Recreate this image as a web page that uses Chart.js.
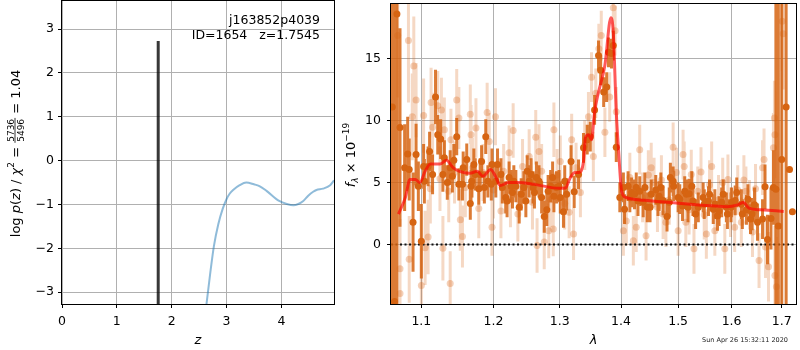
<!DOCTYPE html>
<html><head><meta charset="utf-8">
<script src="https://cdn.jsdelivr.net/npm/chart.js@4.4.1/dist/chart.umd.min.js"></script>
<style>html,body{margin:0;padding:0;background:#fff;width:800px;height:350px;overflow:hidden}
canvas{position:absolute;top:0}#cL{left:0}#cR{left:340px}</style></head>
<body><canvas id="cL" width="340" height="350"></canvas><canvas id="cR" width="460" height="350"></canvas>
<script>
// ---------- Left panel: log p(z) ----------
const zTicks = [0, 1, 2, 3, 4];
const pzTicks = [-3, -2, -1, 0, 1, 2, 3];
const pzZ = [2.60, 2.635, 2.70, 2.77, 2.85, 2.93, 3.0, 3.06, 3.12, 3.24, 3.36, 3.5, 3.6, 3.73, 3.96, 4.10, 4.22, 4.31, 4.40, 4.49, 4.58, 4.64, 4.76, 4.89, 4.96];
const pzLog = [-3.65, -3.27, -2.60, -1.95, -1.45, -1.10, -0.88, -0.75, -0.67, -0.56, -0.50, -0.54, -0.58, -0.69, -0.92, -0.99, -1.02, -0.99, -0.92, -0.80, -0.71, -0.67, -0.64, -0.56, -0.45];
const peakZ = [1.7545, 1.7545];
const peakLog = [-4.0, 2.73];
const annot1 = 'j163852p4039';
const annot2 = 'ID=1654   z=1.7545';

// ---------- Right panel: spectrum ----------
const lamTicks = [1.1, 1.2, 1.3, 1.4, 1.5, 1.6, 1.7];
const fluxTicks = [0, 5, 10, 15];
const modelLam = [1.070,1.079,1.085,1.092,1.098,1.105,1.112,1.125,1.134,1.143,1.152,1.166,1.177,1.185,1.196,1.203,1.210,1.222,1.237,1.261,1.300,1.309,1.317,1.324,1.330,1.338,1.341,1.346,1.351,1.356,1.3625,1.373,1.383,1.387,1.392,1.396,1.401,1.408,1.441,1.500,1.561,1.592,1.612,1.623,1.634,1.657,1.704];
const modelF = [2.45,3.8,5.25,5.25,5.0,5.9,6.5,6.5,6.8,6.2,5.9,5.75,5.9,5.5,6.05,5.5,4.75,5.0,5.0,4.85,4.53,4.55,5.4,5.8,5.8,6.7,8.6,8.85,8.45,10.7,12.3,14.45,18.3,17.1,10.7,7.5,4.3,3.8,3.57,3.33,3.12,3.05,3.2,3.38,2.93,2.8,2.67];

const darkLam = [1.062,1.065,1.068,1.072,1.078,1.082,1.084,1.089,1.093,1.096,1.100,1.103,1.104,1.109,1.111,1.115,1.119,1.122,1.126,1.129,1.131,1.135,1.139,1.142,1.144,1.148,1.151,1.156,1.157,1.162,1.167,1.168,1.169,1.172,1.174,1.179,1.181,1.183,1.187,1.189,1.192,1.197,1.198,1.2035,1.206,1.211,1.213,1.218,1.220,1.223,1.226,1.228,1.230,1.233,1.238,1.241,1.245,1.248,1.250,1.253,1.256,1.259,1.261,1.264,1.268,1.272,1.276,1.280,1.282,1.286,1.289,1.291,1.295,1.299,1.301,1.306,1.308,1.311,1.318,1.323,1.330,1.338,1.344,1.349,1.356,1.3625,1.366,1.371,1.376,1.379,1.384,1.387,1.392,1.398,1.404,1.406,1.412,1.415,1.418,1.423,1.426,1.429,1.432,1.438,1.441,1.445,1.450,1.452,1.460,1.464,1.466,1.469,1.473,1.480,1.484,1.486,1.491,1.492,1.500,1.503,1.508,1.512,1.515,1.518,1.520,1.525,1.527,1.532,1.537,1.546,1.548,1.556,1.558,1.565,1.568,1.573,1.576,1.581,1.584,1.590,1.592,1.599,1.600,1.607,1.610,1.619,1.621,1.629,1.632,1.637,1.640,1.645,1.651,1.661,1.666,1.671,1.678,1.683,1.688,1.693,1.700,1.709,1.716,1.722];
const darkF = [11.1,-4.6,18.6,9.44,6.2,7.3,6.05,1.8,7.25,4.7,0.26,6.3,5.1,6.3,7.5,5.65,11.9,8.85,8.5,5.65,7.0,5.0,6.2,5.5,6.8,8.7,4.85,4.85,6.2,6.85,3.3,4.7,5.1,6.45,5.65,4.5,5.65,6.7,4.6,8.7,5.1,4.85,6.45,5.1,6.45,5.65,4.6,3.8,3.5,5.4,4.7,4.2,5.1,4.7,3.0,4.05,4.6,3.5,5.9,5.1,5.65,4.6,4.2,5.4,5.1,3.8,2.25,2.8,4.3,4.7,5.4,3.9,4.6,4.7,3.8,2.65,5.1,4.05,6.7,4.25,5.65,7.8,8.45,8.7,10.85,15.25,14.05,12.3,12.7,15.5,15.4,16.05,7.85,3.8,4.6,2.85,4.7,3.8,4.2,4.05,4.6,3.5,4.3,3.4,4.6,3.0,3.0,4.05,4.4,3.5,3.9,4.6,3.55,2.25,3.4,5.4,5.1,4.7,3.8,3.65,3.1,4.3,4.05,3.0,4.1,4.7,3.5,2.45,3.0,3.8,3.25,3.5,4.05,2.85,3.25,2.3,2.7,3.4,4.05,3.0,2.45,3.0,3.4,3.55,4.2,3.25,2.45,2.8,3.65,2.05,2.45,3.2,1.8,2.05,4.65,0.4,2.1,4.6,4.45,1.5,6.85,11.1,6.05,2.65];
const darkErr = [25,25,25,8,3.5,3,2.5,4,2.5,2,3,1.8,1.8,1.6,1.6,1.6,2.2,1.6,1.6,1.4,1.4,1.4,1.4,1.3,1.3,1.5,1.3,1.3,1.3,1.3,1.3,1.3,1.3,1.3,1.3,1.3,1.3,1.3,1.3,1.4,1.3,1.3,1.3,1.3,1.3,1.3,1.3,1.3,1.3,1.3,1.3,1.3,1.3,1.3,1.3,1.3,1.3,1.3,1.3,1.3,1.3,1.3,1.3,1.3,1.3,1.3,1.3,1.3,1.3,1.3,1.3,1.3,1.3,1.3,1.3,1.3,1.3,1.3,1.3,1.3,1.2,1.2,1.2,1.2,1.2,1.2,1.2,1.2,1.2,1.2,1.2,1.2,1.2,1.2,1.2,1.2,1.2,1.2,1.2,1.2,1.2,1.2,1.2,1.2,1.2,1.2,1.2,1.2,1.2,1.2,1.2,1.2,1.2,1.2,1.2,1.2,1.2,1.2,1.2,1.2,1.2,1.2,1.2,1.2,1.2,1.2,1.2,1.2,1.2,1.2,1.2,1.2,1.2,1.2,1.2,1.2,1.2,1.2,1.2,1.2,1.2,1.2,1.2,1.2,1.2,1.2,1.2,1.2,1.2,1.2,1.3,1.4,1.5,1.6,1.8,2,2.5,3,25,25,25,25];

const lightLam = [1.069,1.083,1.090,1.072,1.072,1.084,1.093,1.088,1.100,1.103,1.109,1.105,1.112,1.113,1.115,1.122,1.125,1.127,1.129,1.131,1.137,1.139,1.140,1.145,1.148,1.151,1.156,1.153,1.160,1.167,1.168,1.170,1.175,1.179,1.185,1.191,1.194,1.198,1.200,1.203,1.211,1.215,1.223,1.225,1.229,1.236,1.243,1.253,1.258,1.263,1.265,1.268,1.272,1.276,1.283,1.286,1.290,1.291,1.296,1.301,1.308,1.315,1.319,1.322,1.326,1.333,1.340,1.346,1.351,1.354,1.358,1.363,1.367,1.373,1.381,1.387,1.390,1.392,1.404,1.409,1.415,1.421,1.426,1.432,1.437,1.443,1.447,1.452,1.457,1.463,1.470,1.473,1.478,1.484,1.491,1.497,1.500,1.509,1.511,1.514,1.520,1.524,1.529,1.536,1.542,1.548,1.552,1.558,1.562,1.568,1.575,1.583,1.587,1.593,1.598,1.606,1.612,1.619,1.624,1.628,1.635,1.641,1.647,1.654,1.661,1.664,1.667,1.673,1.683,1.685,1.686,1.686,1.689,1.701,1.703];
const lightF = [16.85,16.45,14.4,-1.95,-3.95,-1.2,11.65,10.3,-3.3,10.4,0.6,-0.27,4.5,11.45,9.45,11.2,5.3,10.85,-0.3,9.25,4.3,-3.15,8.45,5.8,11.65,10.2,0.65,2.0,4.6,10.5,8.85,6.2,9.4,2.9,5.8,10.65,8.3,1.4,4.4,10.3,2.7,5.9,7.4,3.6,9.2,2.45,6.3,7.1,3.4,8.65,-0.08,7.5,5.9,0.2,1.1,3.6,1.25,9.25,5.6,6.7,3.3,2.6,8.45,0.85,6.2,4.2,8.0,10.3,13.5,7.1,12.2,15.8,16.85,9.05,11.9,19.1,17.25,10.7,1.1,1.9,5.4,0.3,1.4,7.65,3.8,0.7,5.6,6.2,5.0,3.0,5.2,2.45,1.8,3.6,7.85,5.8,1.1,7.25,6.3,1.8,2.8,5.65,-0.35,4.3,5.85,2.4,0.85,4.8,6.3,1.1,3.6,5.0,-0.35,5.25,2.6,1.4,4.4,1.8,5.2,4.3,3.2,1.0,4.5,-1.3,6.2,6.85,-0.2,-1.8,7.8,10.2,8.85,-2.5,-3.4,18.0,17.0];
const lightErr = [5,5,4,4,4,3.5,3,3.5,3,3,3,3,2.8,2.8,2.8,2.8,2.6,2.6,2.6,2.6,2.5,2.6,2.5,2.5,2.5,2.5,2.5,2.5,2.4,2.4,2.4,2.4,2.4,2.4,2.3,2.4,2.3,2.3,2.3,2.3,2.2,2.2,2.2,2.2,2.2,2.2,2.2,2.2,2.2,2.2,2.2,2.2,2.2,2.2,2.2,2.2,2.2,2.2,2.1,2.1,2.1,2.1,2.1,2.1,2,2,2,2,2,2,2,2,2,2,2,2,2,2,2,2,2,2,2,2,2,2,2,2,2,2,2,2,2,2,2,2,2,2,2,2,2,2,2,2,2,2,2,2,2,2,2,2,2,2,2,2,2,2,2,2,2,2,2,2.2,2.2,2.5,2.5,2.8,2.8,3,3.5,4,4,4,4.5,6,6];

const timestamp = 'Sun Apr 26 15:32:11 2020';
const FONT = "'DejaVu Sans', sans-serif";

function minusFmt(v){ return v < 0 ? '\u2212' + Math.abs(v) : String(v); }
function errSegs(lam, f, e){
  const out = [];
  lam.forEach((x, i) => { out.push({x, y: f[i] - e[i]}, {x, y: f[i] + e[i]}, {x, y: null}); });
  return out;
}
const framePlugin = {id:'frame', afterDraw(c){
  const a = c.chartArea, x = c.ctx; x.save(); x.strokeStyle = '#000'; x.lineWidth = 1;
  x.strokeRect(Math.round(a.left) - 0.5, Math.round(a.top) - 0.5, Math.round(a.right - a.left) + 1, Math.round(a.bottom - a.top) + 1);
  x.restore();
}};
function drawRich(ctx, segs, x0, base){
  let x = x0;
  for (const s of segs){
    ctx.font = s.font;
    if (s.num){
      const wn = ctx.measureText(s.num).width, wd = ctx.measureText(s.den).width, w = Math.max(wn, wd) + 2;
      ctx.fillText(s.num, x + (w - wn) / 2, base - s.bar - 1.5);
      ctx.fillText(s.den, x + (w - wd) / 2, base - s.bar + 1.5 + s.h);
      ctx.fillRect(x, base - s.bar - 0.4, w, 0.8);
      x += w;
    } else { ctx.fillText(s.t, x, base + (s.dy || 0)); x += ctx.measureText(s.t).width; }
  }
  return x - x0;
}
function richWidth(ctx, segs){
  let w = 0;
  for (const s of segs){ ctx.font = s.font;
    if (s.num) w += Math.max(ctx.measureText(s.num).width, ctx.measureText(s.den).width) + 2;
    else w += ctx.measureText(s.t).width; }
  return w;
}
function fixH(h){ return s => { s.height = h; s.paddingLeft = 0; s.paddingRight = 0; s.paddingTop = 0; s.paddingBottom = 0; }; }
function fixW(w){ return s => { s.width = w; s.paddingLeft = 0; s.paddingRight = 0; s.paddingTop = 0; s.paddingBottom = 0; }; }
function scaleCommon(ticks, fmt, pad){
  return {
    afterBuildTicks: s => { s.ticks = ticks.map(v => ({value: v})); },
    grid: {color: '#b0b0b0', lineWidth: 1, tickColor: '#000', tickLength: 4, tickWidth: 1},
    border: {display: false},
    ticks: {color: '#000', font: {family: FONT, size: 12.5}, padding: pad, maxRotation: 0, autoSkip: false, callback: fmt}
  };
}

// ---- left chart ----
const leftText = {id:'leftText', afterDraw(c){
  const ctx = c.ctx, a = c.chartArea; ctx.save(); ctx.fillStyle = '#000';
  ctx.font = '12.5px ' + FONT; ctx.textAlign = 'right'; ctx.textBaseline = 'alphabetic';
  ctx.fillText(annot1, a.right - 14, 24);
  ctx.fillText(annot2, a.right - 14, 39);
  ctx.textAlign = 'center';
  ctx.font = 'italic 13px ' + FONT; ctx.fillText('z', (a.left + a.right) / 2, 344);
  const N = '13px ' + FONT, I = 'italic 13px ' + FONT, S = '9px ' + FONT;
  const segs = [{t:'log ', font:N},{t:'p', font:I},{t:'(', font:N},{t:'z', font:I},{t:') / ', font:N},{t:'\u03c7', font:I},{t:'2', font:S, dy:-6},{t:' = ', font:N},{num:'5736', den:'5496', font:S, bar:4.5, h:7},{t:' = 1.04', font:N}];
  ctx.textAlign = 'left';
  const w = richWidth(ctx, segs);
  ctx.translate(15, (a.top + a.bottom) / 2 + 1); ctx.rotate(-Math.PI / 2);
  drawRich(ctx, segs, -w / 2, 4.5);
  ctx.restore();
}};
new Chart(document.getElementById('cL'), {
  type: 'scatter',
  data: {datasets: [
    {type:'line', data: pzZ.map((z, i) => ({x: z, y: pzLog[i]})), borderColor: 'rgba(31,119,180,0.5)', borderWidth: 2, pointRadius: 0, tension: 0.35, cubicInterpolationMode: 'monotone', order: 2},
    {type:'line', data: peakZ.map((z, i) => ({x: z, y: peakLog[i]})), borderColor: 'rgba(0,0,0,0.78)', borderWidth: 3, pointRadius: 0, order: 1}
  ]},
  options: {
    responsive: false, animation: false, events: [],
    layout: {padding: {top: 1, right: 6, left: 0, bottom: 0}},
    plugins: {legend: {display: false}, tooltip: {enabled: false}},
    scales: {
      x: Object.assign({type: 'linear', min: 0, max: 4.96, afterFit: fixH(46)}, scaleCommon(zTicks, minusFmt, 6)),
      y: Object.assign({type: 'linear', min: -3.27, max: 3.64, afterFit: fixW(62)}, scaleCommon(pzTicks, minusFmt, 4))
    }
  },
  plugins: [framePlugin, leftText]
});

// ---- right chart ----
const rightText = {id:'rightText', afterDraw(c){
  const ctx = c.ctx, a = c.chartArea; ctx.save(); ctx.fillStyle = '#000';
  ctx.textAlign = 'center'; ctx.textBaseline = 'alphabetic';
  ctx.font = 'italic 13px ' + FONT; ctx.fillText('\u03bb', (a.left + a.right) / 2, 344);
  const N = '13px ' + FONT, I = 'italic 13px ' + FONT, S = '9px ' + FONT, SI = 'italic 9px ' + FONT;
  const segs = [{t:'f', font:I},{t:'\u03bb', font:SI, dy:3},{t:' \u00d7 10', font:N},{t:'\u221219', font:S, dy:-6}];
  ctx.textAlign = 'left';
  const w = richWidth(ctx, segs);
  ctx.translate(10, (a.top + a.bottom) / 2 + 1); ctx.rotate(-Math.PI / 2);
  drawRich(ctx, segs, -w / 2, 4.5);
  ctx.restore();
  ctx.save(); ctx.fillStyle = '#222'; ctx.font = '6.5px ' + FONT; ctx.textAlign = 'right'; ctx.textBaseline = 'middle';
  ctx.fillText(timestamp, 448, 340);
  ctx.restore();
}};
const ORANGE = 'rgb(214,100,18)';
new Chart(document.getElementById('cR'), {
  type: 'scatter',
  data: {datasets: [
    {type:'line', data: errSegs(lightLam, lightF, lightErr), borderColor: 'rgba(217,100,20,0.25)', borderWidth: 3, pointRadius: 0, spanGaps: false, order: 10},
    {type:'scatter', data: lightLam.map((x, i) => ({x, y: lightF[i]})), backgroundColor: 'rgba(217,100,20,0.3)', borderWidth: 0, pointRadius: 3.5, order: 9},
    {type:'line', data: [{x: 1.0604, y: 0}, {x: 1.7295, y: 0}], borderColor: '#111', borderWidth: 2, borderDash: [2, 2.5], pointRadius: 0, order: 8},
    {type:'line', data: errSegs(darkLam, darkF, darkErr), borderColor: 'rgba(214,100,18,0.85)', borderWidth: 3, pointRadius: 0, spanGaps: false, order: 7},
    {type:'scatter', data: darkLam.map((x, i) => ({x, y: darkF[i]})), backgroundColor: ORANGE, borderWidth: 0, pointRadius: 3.5, order: 6},
    {type:'line', data: modelLam.map((x, i) => ({x, y: modelF[i]})), borderColor: 'rgba(255,0,0,0.65)', borderWidth: 3, pointRadius: 0, tension: 0.3, cubicInterpolationMode: 'monotone', order: 5}
  ]},
  options: {
    responsive: false, animation: false, events: [],
    layout: {padding: {top: 1, right: 1, left: 0, bottom: 0}},
    plugins: {legend: {display: false}, tooltip: {enabled: false}},
    scales: {
      x: Object.assign({type: 'logarithmic', min: 1.0604, max: 1.7295, afterFit: fixH(46)}, scaleCommon(lamTicks, v => Number(v).toFixed(1), 6)),
      y: Object.assign({type: 'linear', min: -4.8, max: 19.4, afterFit: fixW(51)}, scaleCommon(fluxTicks, minusFmt, 6))
    }
  },
  plugins: [framePlugin, rightText]
});
</script></body></html>
